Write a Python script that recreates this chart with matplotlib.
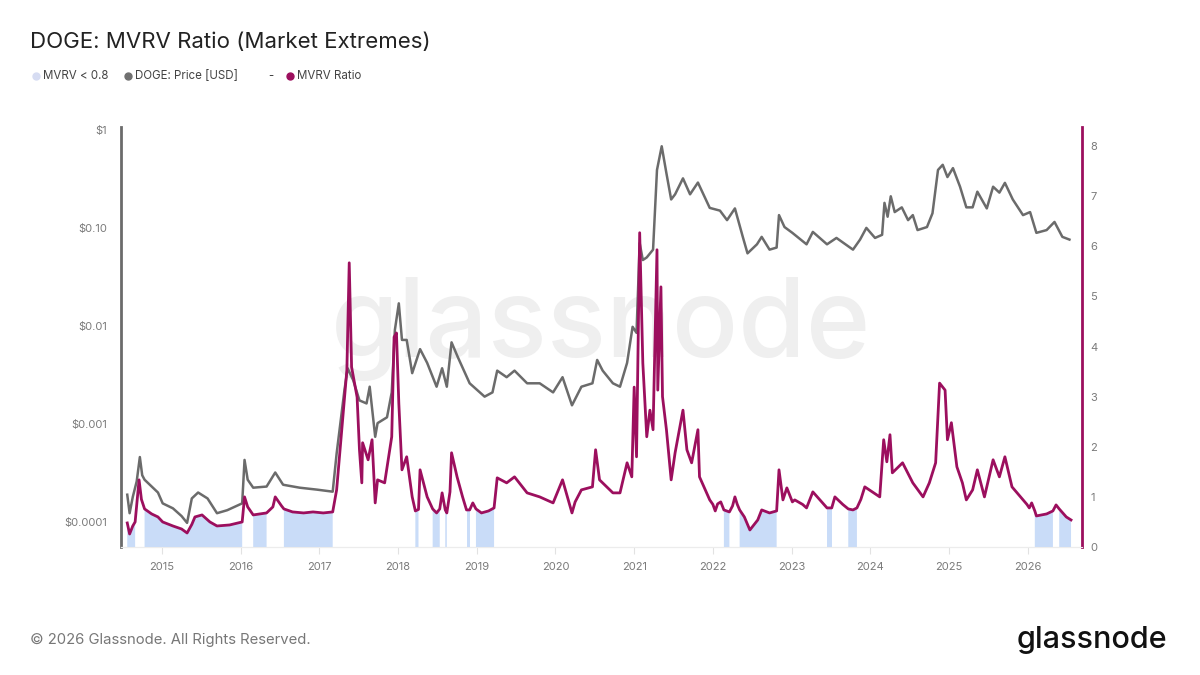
import numpy as np
import matplotlib
matplotlib.use("Agg")
import matplotlib.pyplot as plt
from matplotlib.lines import Line2D
from matplotlib.ticker import FixedLocator, FixedFormatter

plt.rcParams['font.family'] = ['Inter', 'DejaVu Sans']

# DOGE price (USD)
price_years = [2014.56, 2014.59, 2014.63, 2014.68, 2014.72, 2014.75, 2014.78, 2014.87, 2014.95, 2015.01,
               2015.14, 2015.25, 2015.32, 2015.38, 2015.46, 2015.58, 2015.70, 2015.83, 2016.02, 2016.05,
               2016.09, 2016.16, 2016.33, 2016.44, 2016.54, 2016.75, 2016.97, 2017.17, 2017.22, 2017.32,
               2017.36, 2017.43, 2017.51, 2017.60, 2017.64, 2017.71, 2017.74, 2017.86, 2017.92, 2017.96,
               2018.01, 2018.05, 2018.11, 2018.18, 2018.28, 2018.37, 2018.49, 2018.56, 2018.62, 2018.68,
               2018.76, 2018.91, 2019.00, 2019.10, 2019.20, 2019.26, 2019.38, 2019.48, 2019.64, 2019.80,
               2019.97, 2020.09, 2020.21, 2020.33, 2020.47, 2020.53, 2020.60, 2020.73, 2020.82, 2020.91,
               2020.98, 2021.03, 2021.07, 2021.11, 2021.16, 2021.24, 2021.29, 2021.35, 2021.41, 2021.47,
               2021.52, 2021.62, 2021.71, 2021.81, 2021.96, 2022.09, 2022.18, 2022.28, 2022.38, 2022.44,
               2022.56, 2022.62, 2022.72, 2022.81, 2022.84, 2022.91, 2023.01, 2023.19, 2023.27, 2023.45,
               2023.57, 2023.78, 2023.87, 2023.95, 2024.06, 2024.15, 2024.18, 2024.22, 2024.26, 2024.31,
               2024.40, 2024.48, 2024.54, 2024.60, 2024.72, 2024.79, 2024.86, 2024.92, 2024.98, 2025.05,
               2025.14, 2025.22, 2025.30, 2025.36, 2025.48, 2025.56, 2025.64, 2025.71, 2025.81, 2025.94,
               2026.03, 2026.11, 2026.24, 2026.34, 2026.44, 2026.53]
price = [1.9e-4, 1.23e-4, 1.8e-4, 2.6e-4, 4.6e-4, 3.0e-4, 2.7e-4, 2.3e-4, 2.0e-4, 1.55e-4,
         1.38e-4, 1.15e-4, 0.98e-4, 1.74e-4, 2.0e-4, 1.74e-4, 1.23e-4, 1.32e-4, 1.55e-4, 4.3e-4,
         2.7e-4, 2.24e-4, 2.3e-4, 3.2e-4, 2.4e-4, 2.24e-4, 2.14e-4, 2.04e-4, 5.0e-4, 2.24e-3,
         3.7e-3, 2.8e-3, 1.74e-3, 1.62e-3, 2.4e-3, 7.4e-4, 1.02e-3, 1.17e-3, 2.1e-3, 9.1e-3,
         1.7e-2, 7.2e-3, 7.2e-3, 3.3e-3, 5.8e-3, 4.2e-3, 2.4e-3, 3.7e-3, 2.4e-3, 6.8e-3,
         4.8e-3, 2.6e-3, 2.24e-3, 1.9e-3, 2.1e-3, 3.5e-3, 3.0e-3, 3.5e-3, 2.6e-3, 2.6e-3,
         2.1e-3, 3.0e-3, 1.55e-3, 2.4e-3, 2.6e-3, 4.5e-3, 3.5e-3, 2.6e-3, 2.4e-3, 4.2e-3,
         9.8e-3, 8.5e-3, 7.0e-2, 4.7e-2, 5.0e-2, 6.0e-2, 0.39, 0.68, 0.36, 0.195,
         0.22, 0.32, 0.22, 0.29, 0.16, 0.15, 0.12, 0.158, 0.081, 0.055,
         0.068, 0.081, 0.060, 0.063, 0.135, 0.102, 0.089, 0.068, 0.091, 0.068,
         0.079, 0.060, 0.076, 0.100, 0.079, 0.085, 0.18, 0.13, 0.21, 0.145,
         0.162, 0.12, 0.135, 0.095, 0.102, 0.141, 0.39, 0.44, 0.33, 0.407,
         0.263, 0.162, 0.162, 0.234, 0.158, 0.263, 0.229, 0.288, 0.195, 0.135,
         0.145, 0.089, 0.095, 0.115, 0.081, 0.076]

# MVRV ratio, right axis
mvrv_years = [2014.56, 2014.59, 2014.63, 2014.66, 2014.71, 2014.74, 2014.78, 2014.87, 2014.95, 2015.01,
              2015.14, 2015.25, 2015.32, 2015.38, 2015.42, 2015.51, 2015.61, 2015.70, 2015.86, 2016.02,
              2016.05, 2016.09, 2016.16, 2016.33, 2016.41, 2016.44, 2016.52, 2016.55, 2016.66, 2016.80,
              2016.92, 2017.05, 2017.17, 2017.22, 2017.30, 2017.35, 2017.38, 2017.41, 2017.48, 2017.51,
              2017.54, 2017.55, 2017.62, 2017.67, 2017.71, 2017.74, 2017.83, 2017.92, 2017.95, 2017.98,
              2018.01, 2018.05, 2018.11, 2018.18, 2018.22, 2018.26, 2018.28, 2018.37, 2018.44, 2018.49,
              2018.53, 2018.56, 2018.60, 2018.62, 2018.66, 2018.68, 2018.75, 2018.82, 2018.87, 2018.91,
              2018.95, 2018.99, 2019.06, 2019.15, 2019.22, 2019.26, 2019.38, 2019.48, 2019.64, 2019.80,
              2019.97, 2020.09, 2020.17, 2020.21, 2020.25, 2020.33, 2020.47, 2020.51, 2020.56, 2020.73,
              2020.82, 2020.91, 2020.97, 2021.00, 2021.03, 2021.07, 2021.11, 2021.16, 2021.20, 2021.24,
              2021.29, 2021.30, 2021.34, 2021.36, 2021.41, 2021.47, 2021.52, 2021.62, 2021.67, 2021.73,
              2021.81, 2021.83, 2021.96, 2022.00, 2022.03, 2022.06, 2022.10, 2022.14, 2022.21, 2022.25,
              2022.28, 2022.31, 2022.34, 2022.40, 2022.47, 2022.57, 2022.62, 2022.72, 2022.81, 2022.84,
              2022.89, 2022.94, 2023.01, 2023.04, 2023.14, 2023.19, 2023.27, 2023.45, 2023.51, 2023.55,
              2023.65, 2023.72, 2023.78, 2023.83, 2023.88, 2023.93, 2024.12, 2024.17, 2024.21, 2024.25,
              2024.28, 2024.41, 2024.54, 2024.67, 2024.75, 2024.83, 2024.88, 2024.95, 2024.98, 2025.03,
              2025.10, 2025.17, 2025.22, 2025.30, 2025.36, 2025.45, 2025.56, 2025.64, 2025.71, 2025.80,
              2025.94, 2025.99, 2026.02, 2026.05, 2026.09, 2026.11, 2026.24, 2026.32, 2026.36, 2026.40,
              2026.49, 2026.55]
mvrv = [0.48, 0.26, 0.42, 0.50, 1.34, 0.95, 0.76, 0.66, 0.60, 0.50,
        0.42, 0.36, 0.28, 0.45, 0.60, 0.64, 0.50, 0.42, 0.44, 0.50,
        1.00, 0.80, 0.64, 0.68, 0.80, 1.00, 0.82, 0.76, 0.70, 0.68,
        0.70, 0.68, 0.70, 1.14, 2.60, 3.53, 5.67, 3.59, 2.99, 1.94,
        1.28, 2.08, 1.74, 2.14, 0.88, 1.34, 1.28, 2.20, 4.19, 4.27,
        2.87, 1.54, 1.80, 1.00, 0.72, 0.75, 1.54, 1.00, 0.76, 0.68,
        0.76, 1.08, 0.74, 0.68, 1.10, 1.88, 1.40, 1.00, 0.74, 0.74,
        0.88, 0.76, 0.68, 0.72, 0.78, 1.38, 1.28, 1.40, 1.08, 1.00,
        0.88, 1.34, 0.90, 0.68, 0.90, 1.14, 1.20, 1.94, 1.34, 1.08,
        1.08, 1.68, 1.40, 3.19, 1.80, 6.27, 3.67, 2.20, 2.73, 2.34,
        5.93, 3.13, 5.19, 3.00, 2.34, 1.34, 1.88, 2.73, 1.94, 1.68,
        2.34, 1.40, 0.94, 0.85, 0.72, 0.86, 0.90, 0.74, 0.70, 0.82,
        1.00, 0.85, 0.74, 0.60, 0.34, 0.54, 0.74, 0.68, 0.72, 1.54,
        0.94, 1.18, 0.90, 0.94, 0.85, 0.78, 1.10, 0.78, 0.78, 1.00,
        0.85, 0.76, 0.74, 0.78, 0.95, 1.20, 1.00, 2.14, 1.70, 2.24,
        1.48, 1.68, 1.28, 1.00, 1.28, 1.68, 3.27, 3.13, 2.14, 2.48,
        1.60, 1.28, 0.94, 1.14, 1.54, 1.00, 1.74, 1.40, 1.80, 1.20,
        0.94, 0.85, 0.78, 0.88, 0.72, 0.62, 0.66, 0.72, 0.84, 0.76,
        0.60, 0.54]

year_ticks = list(range(2015, 2027))
price_ticks = [1e-4, 1e-3, 1e-2, 1e-1, 1]
price_labels = ['$0.0001', '$0.001', '$0.01', '$0.10', '$1']
threshold = 0.8

gray = '#6b6b6b'
magenta = '#9c0f5e'
fillc = '#c9dcf8'
tickc = '#7a7a7a'

fig = plt.figure(figsize=(12, 6.75), dpi=100)
ax = fig.add_axes([0.1008, 0.1896, 0.8009, 0.6223])
ax2 = ax.twinx()

# watermark
ax.text(0.5, 0.52, 'glassnode', transform=ax.transAxes, ha='center', va='center',
        fontsize=79, color='#efefef', fontweight='medium', zorder=0)

ax.plot(price_years, price, color=gray, lw=1.8, zorder=3)
ax.set_yscale('log')
ax.set_ylim(5.56e-5, 1.07)
ax.set_xlim(2014.48, 2026.69)

mv = np.array(mvrv)
ax2.fill_between(mvrv_years, 0, mv, where=mv < threshold, interpolate=True,
                 color=fillc, lw=0, zorder=1)
ax2.plot(mvrv_years, mv, color=magenta, lw=2, zorder=3)
ax2.set_ylim(0, 8.38)
ax2.set_yticks(range(0, 9))

ax.yaxis.set_major_locator(FixedLocator(price_ticks))
ax.yaxis.set_major_formatter(FixedFormatter(price_labels))
ax.yaxis.set_minor_locator(FixedLocator([]))
ax.set_xticks(year_ticks)
ax.set_xticklabels([str(y) for y in year_ticks])

ax.tick_params(axis='y', length=0, pad=10, labelsize=8, labelcolor=tickc)
ax.tick_params(axis='x', length=5, color='#e2e2e2', pad=6, labelsize=8, labelcolor=tickc)
ax2.tick_params(axis='y', length=0, pad=6, labelsize=8, labelcolor=tickc)

for a in (ax, ax2):
    a.spines['top'].set_visible(False)
    a.spines['bottom'].set_color('#ececec')
    a.spines['left'].set_visible(False)
    a.spines['right'].set_visible(False)
ax.spines['left'].set_visible(True)
ax.spines['left'].set_color('#6b6b6b')
ax.spines['left'].set_linewidth(2)
ax2.spines['right'].set_visible(True)
ax2.spines['right'].set_color(magenta)
ax2.spines['right'].set_linewidth(2)

# title and legend
fig.text(0.025, 0.938, 'DOGE: MVRV Ratio (Market Extremes)', fontsize=16, color='#222222',
         va='center', ha='left')
leg_y = 1 - 76 / 675
legend_items = [(36, '#d6dcf2', 'MVRV < 0.8'), (128, '#707070', 'DOGE: Price [USD]'),
                (290, magenta, 'MVRV Ratio')]
for px, c, lab in legend_items:
    fig.add_artist(Line2D([px / 1200], [leg_y], marker='o', ms=5, color=c, lw=0,
                          transform=fig.transFigure))
    fig.text((px + 7) / 1200, leg_y, lab, fontsize=8.3, color='#444444', va='center', ha='left')
fig.text(271 / 1200, leg_y, '-', fontsize=8.3, color='#444444', va='center', ha='center')

# footer
fig.text(0.025, 1 - 640 / 675, '\u00a9 2026 Glassnode. All Rights Reserved.', fontsize=10.7,
         color='#777777', va='center', ha='left')
fig.text(0.973, 1 - 640 / 675, 'glassnode', fontsize=22, color='#111111', va='center',
         ha='right', fontweight='medium')

fig.savefig('out.png', dpi=100)
